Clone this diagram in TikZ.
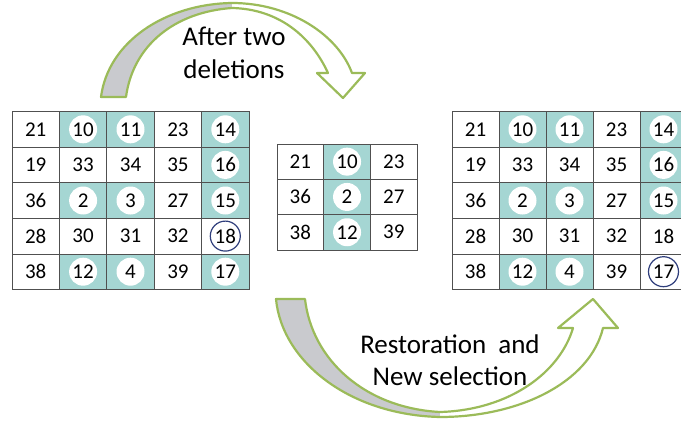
\documentclass[tikz,border=0pt]{standalone}
\usepackage{fontspec}
\setmainfont{Carlito}
\definecolor{tealcell}{HTML}{A5D6D3}
\definecolor{arrgreen}{HTML}{9BBB59}
\definecolor{arrgray}{HTML}{C9CACE}
\definecolor{ringblue}{HTML}{2F3E7C}
\definecolor{gridline}{HTML}{505050}
\tikzset{
  cellbase/.style={rectangle, draw=gridline, line width=0.8pt, inner sep=0pt},
  cell0/.style={cellbase, fill=white},
  cell1/.style={cellbase, fill=tealcell},
  cell2/.style={cellbase, fill=white},
  numbase/.style={circle, inner sep=0pt, minimum size=28pt, font=\fontsize{21}{25}\selectfont, text=black},
  num0/.style={numbase},
  num1/.style={numbase, fill=white},
  num2/.style={numbase, draw=ringblue, line width=1.2pt, minimum size=30pt},
  arrline/.style={draw=arrgreen, line width=2.2pt, line join=round},
  lbl/.style={align=center, font=\fontsize{27}{32.5}\selectfont, text=black}
}
\begin{document}
\begin{tikzpicture}[x=1pt,y=-1pt]
\useasboundingbox (0,0) rectangle (681,423);
\clip (0,0) rectangle (681,423);

% ---------- top curved arrow ----------
\fill[arrgray] (101,97) .. controls (108,42) and (165,4) .. (232,3) -- (232,8) .. controls (175,12) and (133,45) .. (126,97) -- cycle;
\fill[white] (232,3) .. controls (290,3) and (338,35) .. (352,73) -- (365,73) -- (343,98) -- (317,73) -- (328,73) .. controls (312,38) and (280,9) .. (232,8) -- cycle;
\draw[arrline] (101,97) .. controls (108,42) and (165,4) .. (232,3) .. controls (290,3) and (338,35) .. (352,73) -- (365,73) -- (343,98) -- (317,73) -- (328,73) .. controls (312,38) and (280,9) .. (232,8) .. controls (175,12) and (133,45) .. (126,97) -- cycle;

% ---------- bottom curved arrow ----------
\fill[arrgray] (276,299) .. controls (282,362) and (350,415) .. (440,417) -- (440,412) .. controls (365,408) and (312,360) .. (305,299) -- cycle;
\fill[white] (440,417) .. controls (520,417) and (590,382) .. (603,328) -- (618,328) -- (593,299) -- (558,328) -- (573,328) .. controls (560,372) and (510,410) .. (440,412) -- cycle;
\draw[arrline] (276,299) .. controls (282,362) and (350,415) .. (440,417) .. controls (520,417) and (590,382) .. (603,328) -- (618,328) -- (593,299) -- (558,328) -- (573,328) .. controls (560,372) and (510,410) .. (440,412) .. controls (365,408) and (312,360) .. (305,299) -- cycle;

% ---------- labels ----------
\node[lbl] (lblTop) at (234,53) {After two\\deletions};
\node[lbl] (lblBot) at (450,360) {Restoration\ \ and\\New selection};

% ---------- left grid ----------
\foreach \c/\r/\n/\t in {
  1/1/21/0, 2/1/10/1, 3/1/11/1, 4/1/23/0, 5/1/14/1,
  1/2/19/0, 2/2/33/0, 3/2/34/0, 4/2/35/0, 5/2/16/1,
  1/3/36/0, 2/3/2/1,  3/3/3/1,  4/3/27/0, 5/3/15/1,
  1/4/28/0, 2/4/30/0, 3/4/31/0, 4/4/32/0, 5/4/18/2,
  1/5/38/0, 2/5/12/1, 3/5/4/1,  4/5/39/0, 5/5/17/1} {
  \node[cell\t, minimum width=47.4pt, minimum height=35.6pt] (L-\r-\c) at ({12+(\c-0.5)*47.4},{111.5+(\r-0.5)*35.6}) {};
  \node[num\t] (LN-\r-\c) at (L-\r-\c.center) {\n};
}

% ---------- middle grid ----------
\foreach \c/\r/\n/\t in {
  1/1/21/0, 2/1/10/1, 3/1/23/0,
  1/2/36/0, 2/2/2/1,  3/2/27/0,
  1/3/38/0, 2/3/12/1, 3/3/39/0} {
  \node[cell\t, minimum width=46.7pt, minimum height=35.3pt] (M-\r-\c) at ({277+(\c-0.5)*46.7},{144+(\r-0.5)*35.3}) {};
  \node[num\t] (MN-\r-\c) at (M-\r-\c.center) {\n};
}

% ---------- right grid ----------
\foreach \c/\r/\n/\t in {
  1/1/21/0, 2/1/10/1, 3/1/11/1, 4/1/23/0, 5/1/14/1,
  1/2/19/0, 2/2/33/0, 3/2/34/0, 4/2/35/0, 5/2/16/1,
  1/3/36/0, 2/3/2/1,  3/3/3/1,  4/3/27/0, 5/3/15/1,
  1/4/28/0, 2/4/30/0, 3/4/31/0, 4/4/32/0, 5/4/18/0,
  1/5/38/0, 2/5/12/1, 3/5/4/1,  4/5/39/0, 5/5/17/2} {
  \node[cell\t, minimum width=47pt, minimum height=35.6pt] (R-\r-\c) at ({452+(\c-0.5)*47},{111.5+(\r-0.5)*35.6}) {};
  \node[num\t] (RN-\r-\c) at (R-\r-\c.center) {\n};
}
\end{tikzpicture}
\end{document}
